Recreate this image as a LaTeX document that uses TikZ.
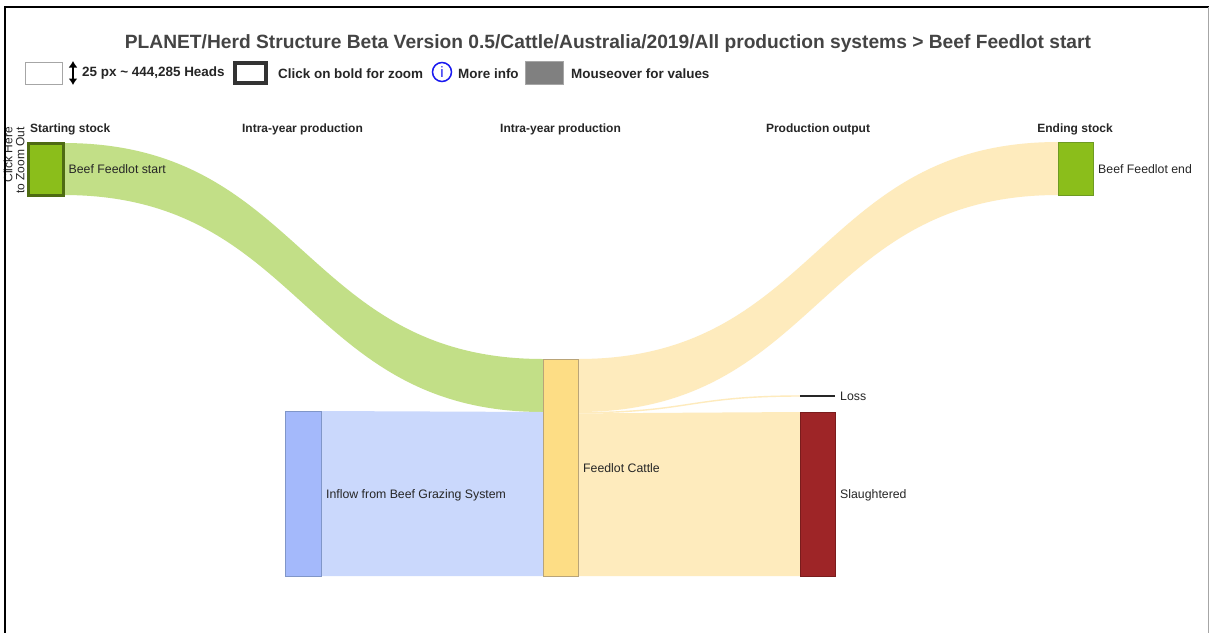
\documentclass[tikz,border=0pt]{standalone}
\usepackage{fontspec}
\setmainfont{Liberation Sans}
\usetikzlibrary{arrows.meta,calc}
\definecolor{gnode}{HTML}{8BBE1B}
\definecolor{gdark}{HTML}{4E6B12}
\definecolor{gedge}{HTML}{6E9A22}
\definecolor{gflow}{HTML}{C2DF87}
\definecolor{bnode}{HTML}{A4B9FB}
\definecolor{bedge}{HTML}{8096C8}
\definecolor{bflow}{HTML}{CAD8FC}
\definecolor{ynode}{HTML}{FDDD85}
\definecolor{yedge}{HTML}{B9A478}
\definecolor{yflow}{HTML}{FEEBBD}
\definecolor{rnode}{HTML}{9E2527}
\definecolor{redge}{HTML}{7A1C1C}
\definecolor{titlec}{HTML}{444444}
\definecolor{infoblue}{HTML}{1A1AF0}
\newcommand\flowband[5]{%
  \fill[#5] let \p1=#1, \p2=#2, \p3=#3, \p4=#4 in
    (\p1) .. controls ({0.5*(\x1+\x3)},\y1) and ({0.5*(\x1+\x3)},\y3) .. (\p3) -- (\p4)
    .. controls ({0.5*(\x1+\x3)},\y4) and ({0.5*(\x1+\x3)},\y2) .. (\p2) -- cycle;}
\begin{document}
\begin{tikzpicture}[x=1pt,y=-1pt,
  nodebox/.style={draw, rectangle, anchor=north west, inner sep=0pt, outer sep=0pt},
  lab/.style={font=\fontsize{12.3}{14}\selectfont, anchor=west, inner sep=0pt, text=black!85},
  hdr/.style={font=\fontsize{12}{14}\selectfont\bfseries, inner sep=0pt, text=black!85},
  legtxt/.style={font=\fontsize{13.45}{15}\selectfont\bfseries, anchor=west, inner sep=0pt, text=black!85}]
\useasboundingbox (0,0) rectangle (1210,633);
\fill[white] (0,0) rectangle (1210,633);

% title
\node[font=\fontsize{19.2}{21}\selectfont\bfseries, text=titlec, inner sep=0pt] (title) at (608,43.5)
  {PLANET/Herd Structure Beta Version 0.5/Cattle/Australia/2019/All production systems > Beef Feedlot start};

% legend
\node[nodebox, draw=gray!70, line width=0.8pt, minimum width=37pt, minimum height=22pt] (lgbox) at (25,62) {};
\draw[{Latex[length=6.5pt,width=9pt]}-{Latex[length=6.5pt,width=9pt]}, line width=2pt] (73,61) -- (73,85);
\node[legtxt] (lgheads) at (82,73.5) {25 px \textasciitilde{} 444,285 Heads};
\node[nodebox, draw=black!80, line width=3.5pt, minimum width=31pt, minimum height=20pt] (lgbold) at (235,63) {};
\node[legtxt] (lgzoom) at (278,73.5) {Click on bold for zoom};
\node[circle, draw=infoblue, line width=1.5pt, minimum size=19pt, inner sep=0pt,
      font=\fontsize{15}{15}\selectfont, text=infoblue] (lginfo) at (442,72) {i};
\node[legtxt] (lgmore) at (458,73.5) {More info};
\node[nodebox, fill=black!50, draw=black!35, line width=0.6pt, minimum width=38pt, minimum height=23pt] (lggrey) at (525,61) {};
\node[legtxt] (lgmouse) at (571,73.5) {Mouseover for values};

% column headers
\node[hdr, anchor=west] (h1) at (30,129.5) {Starting stock};
\node[hdr] (h2) at (302.5,129.5) {Intra-year production};
\node[hdr] (h3) at (560.5,129.5) {Intra-year production};
\node[hdr] (h4) at (818,129.5) {Production output};
\node[hdr] (h5) at (1075,129.5) {Ending stock};

% node positions (boxes drawn after the flows)
\path (28.5,143) node[nodebox, draw=none, minimum width=35pt, minimum height=52pt] (start) {};
\path (1058,142) node[nodebox, draw=none, minimum width=35pt, minimum height=53pt] (endn) {};
\path (285,411) node[nodebox, draw=none, minimum width=36pt, minimum height=165pt] (inflow) {};
\path (543,359) node[nodebox, draw=none, minimum width=35pt, minimum height=217pt] (cattle) {};
\path (800,394.8) node[nodebox, draw=none, minimum width=35pt, minimum height=2.4pt] (loss) {};
\path (800,412) node[nodebox, draw=none, minimum width=35pt, minimum height=164pt] (slaught) {};

% flows
\flowband{(start.north east)}{(start.south east)}{(cattle.north west)}{($(cattle.north west)+(0,53)$)}{gflow}
\flowband{(inflow.north east)}{(inflow.south east)}{($(cattle.north west)+(0,53)$)}{(cattle.south west)}{bflow}
\flowband{(cattle.north east)}{($(cattle.north east)+(0,53)$)}{(endn.north west)}{(endn.south west)}{yflow}
\flowband{($(cattle.north east)+(0,53)$)}{($(cattle.north east)+(0,54.4)$)}{($(loss.west)+(0,-0.7)$)}{($(loss.west)+(0,0.7)$)}{yflow}
\flowband{($(cattle.north east)+(0,54.4)$)}{(cattle.south east)}{(slaught.north west)}{(slaught.south west)}{yflow}

% node boxes
\node[nodebox, fill=gnode, draw=gdark, line width=3pt, minimum width=35pt, minimum height=52pt] at (start.north west) {};
\node[nodebox, fill=gnode, draw=gedge, line width=0.8pt, minimum width=35pt, minimum height=53pt] at (endn.north west) {};
\node[nodebox, fill=bnode, draw=bedge, line width=0.8pt, minimum width=36pt, minimum height=165pt] at (inflow.north west) {};
\node[nodebox, fill=ynode, draw=yedge, line width=0.8pt, minimum width=35pt, minimum height=217pt] at (cattle.north west) {};
\node[nodebox, fill=black!85, draw=none, minimum width=35pt, minimum height=2.4pt] at (loss.north west) {};
\node[nodebox, fill=rnode, draw=redge, line width=0.8pt, minimum width=35pt, minimum height=164pt] at (slaught.north west) {};

% node labels
\node[lab] (lstart) at ([xshift=5pt,yshift=-0.5pt]start.east) {Beef Feedlot start};
\node[lab] (lend) at ([xshift=5pt,yshift=-0.5pt]endn.east) {Beef Feedlot end};
\node[lab] (linflow) at ([xshift=5pt,yshift=-1.5pt]inflow.east) {Inflow from Beef Grazing System};
\node[lab] (lcattle) at ([xshift=5pt,yshift=-1pt]cattle.east) {Feedlot Cattle};
\node[lab] (lloss) at ([xshift=5pt]loss.east) {Loss};
\node[lab] (lslaught) at ([xshift=5pt,yshift=-1.5pt]slaught.east) {Slaughtered};

% zoom-out text
\node[rotate=90, anchor=north east, align=right, inner sep=0pt,
      font=\fontsize{12}{12}\selectfont, text=black!85] (zoomout) at (3.5,127) {Click Here\\to Zoom Out};

% frame
\draw[line width=2pt] (4,7) -- (1209,7);
\draw[line width=2pt] (5,6) -- (5,633);
\draw[black!35, line width=1pt] (1208.5,7) -- (1208.5,633);
\end{tikzpicture}
\end{document}
